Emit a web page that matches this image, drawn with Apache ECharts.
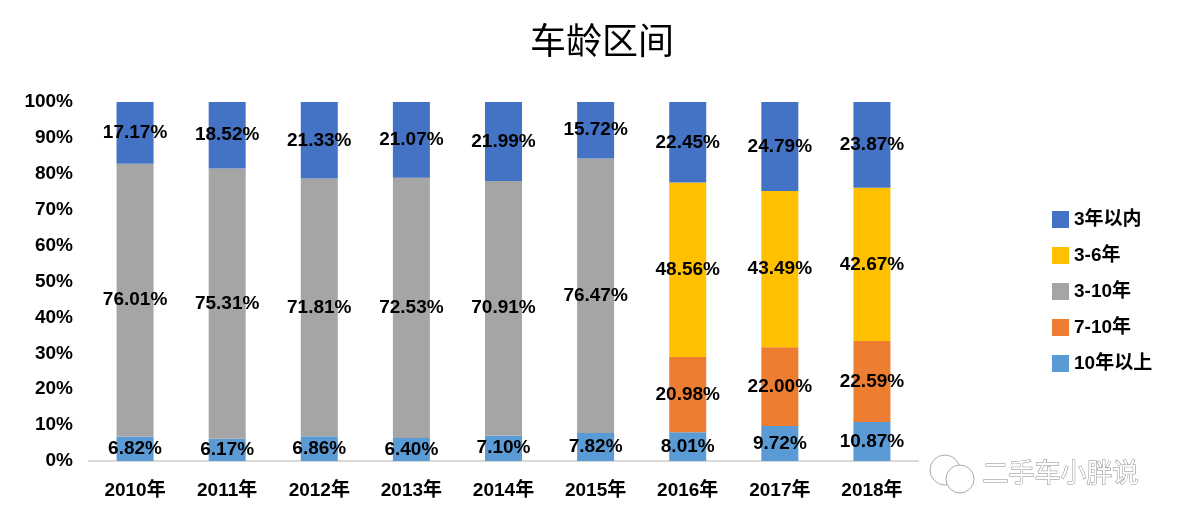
<!DOCTYPE html>
<html><head><meta charset="utf-8">
<style>html,body{margin:0;padding:0;background:#fff}#c{width:1194px;height:528px}</style>
<script src="https://cdn.jsdelivr.net/npm/echarts@6/dist/echarts.min.js"></script>
</head><body><div id="c"></div>
<script>
const categories = ['2010年','2011年','2012年','2013年','2014年','2015年','2016年','2017年','2018年'];
const over10 = [6.82,6.17,6.86,6.40,7.10,7.82,8.01,9.72,10.87];
const y7to10 = [null,null,null,null,null,null,20.98,22.00,22.59];
const y3to10 = [76.01,75.31,71.81,72.53,70.91,76.47,null,null,null];
const y3to6 = [null,null,null,null,null,null,48.56,43.49,42.67];
const within3 = [17.17,18.52,21.33,21.07,21.99,15.72,22.45,24.79,23.87];
const yTicks = [0,10,20,30,40,50,60,70,80,90,100];
const legendOrder = ['3年以内','3-6年','3-10年','7-10年','10年以上'];

const FONT = '"Liberation Sans","Noto Sans CJK SC",sans-serif';
const CJK = '"Noto Sans CJK SC",sans-serif';
function s(name,data,color){
  return {name,type:'bar',stack:'a',data,barWidth:37,
    itemStyle:{color},
    label:{show:true,position:'inside',color:'#000',fontFamily:FONT,fontWeight:'bold',fontSize:19,
      formatter:p=>p.value==null?'':p.value.toFixed(2)+'%'},
    labelLayout:{hideOverlap:false}};
}
const chart = echarts.init(document.getElementById('c'),null,{renderer:'canvas'});
chart.setOption({
  animation:false,
  backgroundColor:'#fff',
  title:{text:'车龄区间',left:597,top:17,textAlign:'center',
    textStyle:{fontFamily:CJK,fontWeight:'normal',fontSize:36,color:'#000'}},
  legend:{data:legendOrder,orient:'vertical',left:1047,top:205,itemWidth:17,itemHeight:17,itemGap:17,
    icon:'rect',textStyle:{fontFamily:FONT,fontWeight:'bold',fontSize:19,color:'#000'}},
  grid:{left:89,top:102,width:829,height:359,containLabel:false},
  xAxis:{type:'category',data:categories,
    axisLine:{lineStyle:{color:'#d9d9d9',width:2}},axisTick:{show:false},
    axisLabel:{fontFamily:FONT,fontWeight:'bold',fontSize:19,color:'#000',margin:20}},
  yAxis:{type:'value',min:yTicks[0],max:yTicks[yTicks.length-1],interval:10,
    splitLine:{show:false},axisLine:{show:false},axisTick:{show:false},
    axisLabel:{fontFamily:FONT,fontWeight:'bold',fontSize:19,color:'#000',margin:16,formatter:'{value}%'}},
  series:[
    s('10年以上',over10,'#5b9bd5'),
    s('7-10年',y7to10,'#ed7d31'),
    s('3-10年',y3to10,'#a5a5a5'),
    s('3-6年',y3to6,'#ffc000'),
    s('3年以内',within3,'#4472c4')
  ],
  graphic:[
    {type:'text',left:982,top:459,style:{text:'二手车小胖说',fill:'#fff',stroke:'#8a8a8a',lineWidth:1,
      font:'26px "Noto Sans CJK SC",sans-serif'}},
    {type:'circle',shape:{cx:945,cy:470,r:15},style:{fill:'#fff',stroke:'#aaa',lineWidth:1}},
    {type:'circle',shape:{cx:960,cy:479,r:14},style:{fill:'#fff',stroke:'#aaa',lineWidth:1}}
  ]
});
</script></body></html>
